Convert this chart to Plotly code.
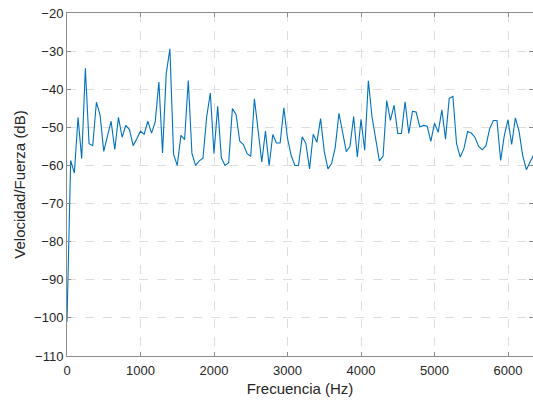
import plotly.graph_objects as go

freq_step_hz = 50
velocidad_fuerza_db = [
    -101.0, -58.7, -62.0, -47.4, -58.2, -34.5, -54.3, -54.8, -43.4, -46.8,
    -56.3, -52.0, -48.4, -55.8, -47.4, -52.6, -49.5, -50.6, -54.8, -53.0,
    -51.0, -51.8, -48.4, -51.5, -48.6, -38.1, -56.7, -35.9, -29.4, -57.1,
    -60.0, -52.1, -53.2, -37.7, -56.9, -60.0, -58.8, -58.1, -47.3, -41.0,
    -56.9, -44.5, -58.0, -60.0, -59.3, -45.1, -46.6, -53.6, -54.5, -56.9,
    -57.6, -42.5, -51.7, -59.1, -51.0, -60.0, -51.9, -54.1, -54.1, -44.9,
    -52.8, -57.4, -60.0, -60.0, -52.5, -54.2, -60.9, -51.8, -53.9, -47.7,
    -56.3, -60.9, -59.5, -55.2, -46.3, -51.6, -56.4, -55.0, -47.2, -57.8,
    -47.9, -56.0, -37.8, -47.3, -52.8, -58.8, -57.6, -43.0, -48.2, -44.2,
    -51.6, -51.6, -43.3, -51.6, -45.8, -46.0, -49.9, -49.5, -49.7, -53.7,
    -48.9, -51.3, -45.4, -53.1, -42.4, -41.9, -54.3, -57.8, -55.6, -51.1,
    -51.5, -52.6, -55.0, -55.9, -54.8, -50.4, -48.2, -48.2, -58.7, -52.1,
    -48.0, -54.5, -47.5, -51.0, -57.4, -61.1, -59.1, -57.2,
]
frecuencia_hz = [i * freq_step_hz for i in range(len(velocidad_fuerza_db))]

x_ticks = [0, 1000, 2000, 3000, 4000, 5000, 6000]
y_ticks = [-110, -100, -90, -80, -70, -60, -50, -40, -30, -20]

fig = go.Figure()
fig.add_trace(go.Scatter(
    x=frecuencia_hz, y=velocidad_fuerza_db, mode="lines",
    line=dict(color="#0072BD", width=1.1),
    showlegend=False,
))

axis_common = dict(
    showline=True, linecolor="#8c8c8c", linewidth=1, mirror="ticks",
    ticks="inside", ticklen=4, tickcolor="#8c8c8c",
    showgrid=True, gridcolor="#dedede", griddash="dash", gridwidth=1,
    zeroline=False,
    tickfont=dict(family="Liberation Sans, Arial, sans-serif", size=13, color="#262626"),
    title_font=dict(family="Liberation Sans, Arial, sans-serif", size=15, color="#262626"),
)

fig.update_layout(
    width=533, height=405,
    margin=dict(l=67, r=0, t=13, b=49),
    paper_bgcolor="white", plot_bgcolor="white",
    xaxis=dict(range=[0, 6340], tickvals=x_ticks, title=dict(text="Frecuencia (Hz)", standoff=6), **axis_common),
    yaxis=dict(range=[-110, -20], tickvals=y_ticks, title=dict(text="Velocidad/Fuerza (dB)", standoff=4), **axis_common),
)
fig.update_xaxes(ticklabelstandoff=2)

fig.write_html("out.html")
